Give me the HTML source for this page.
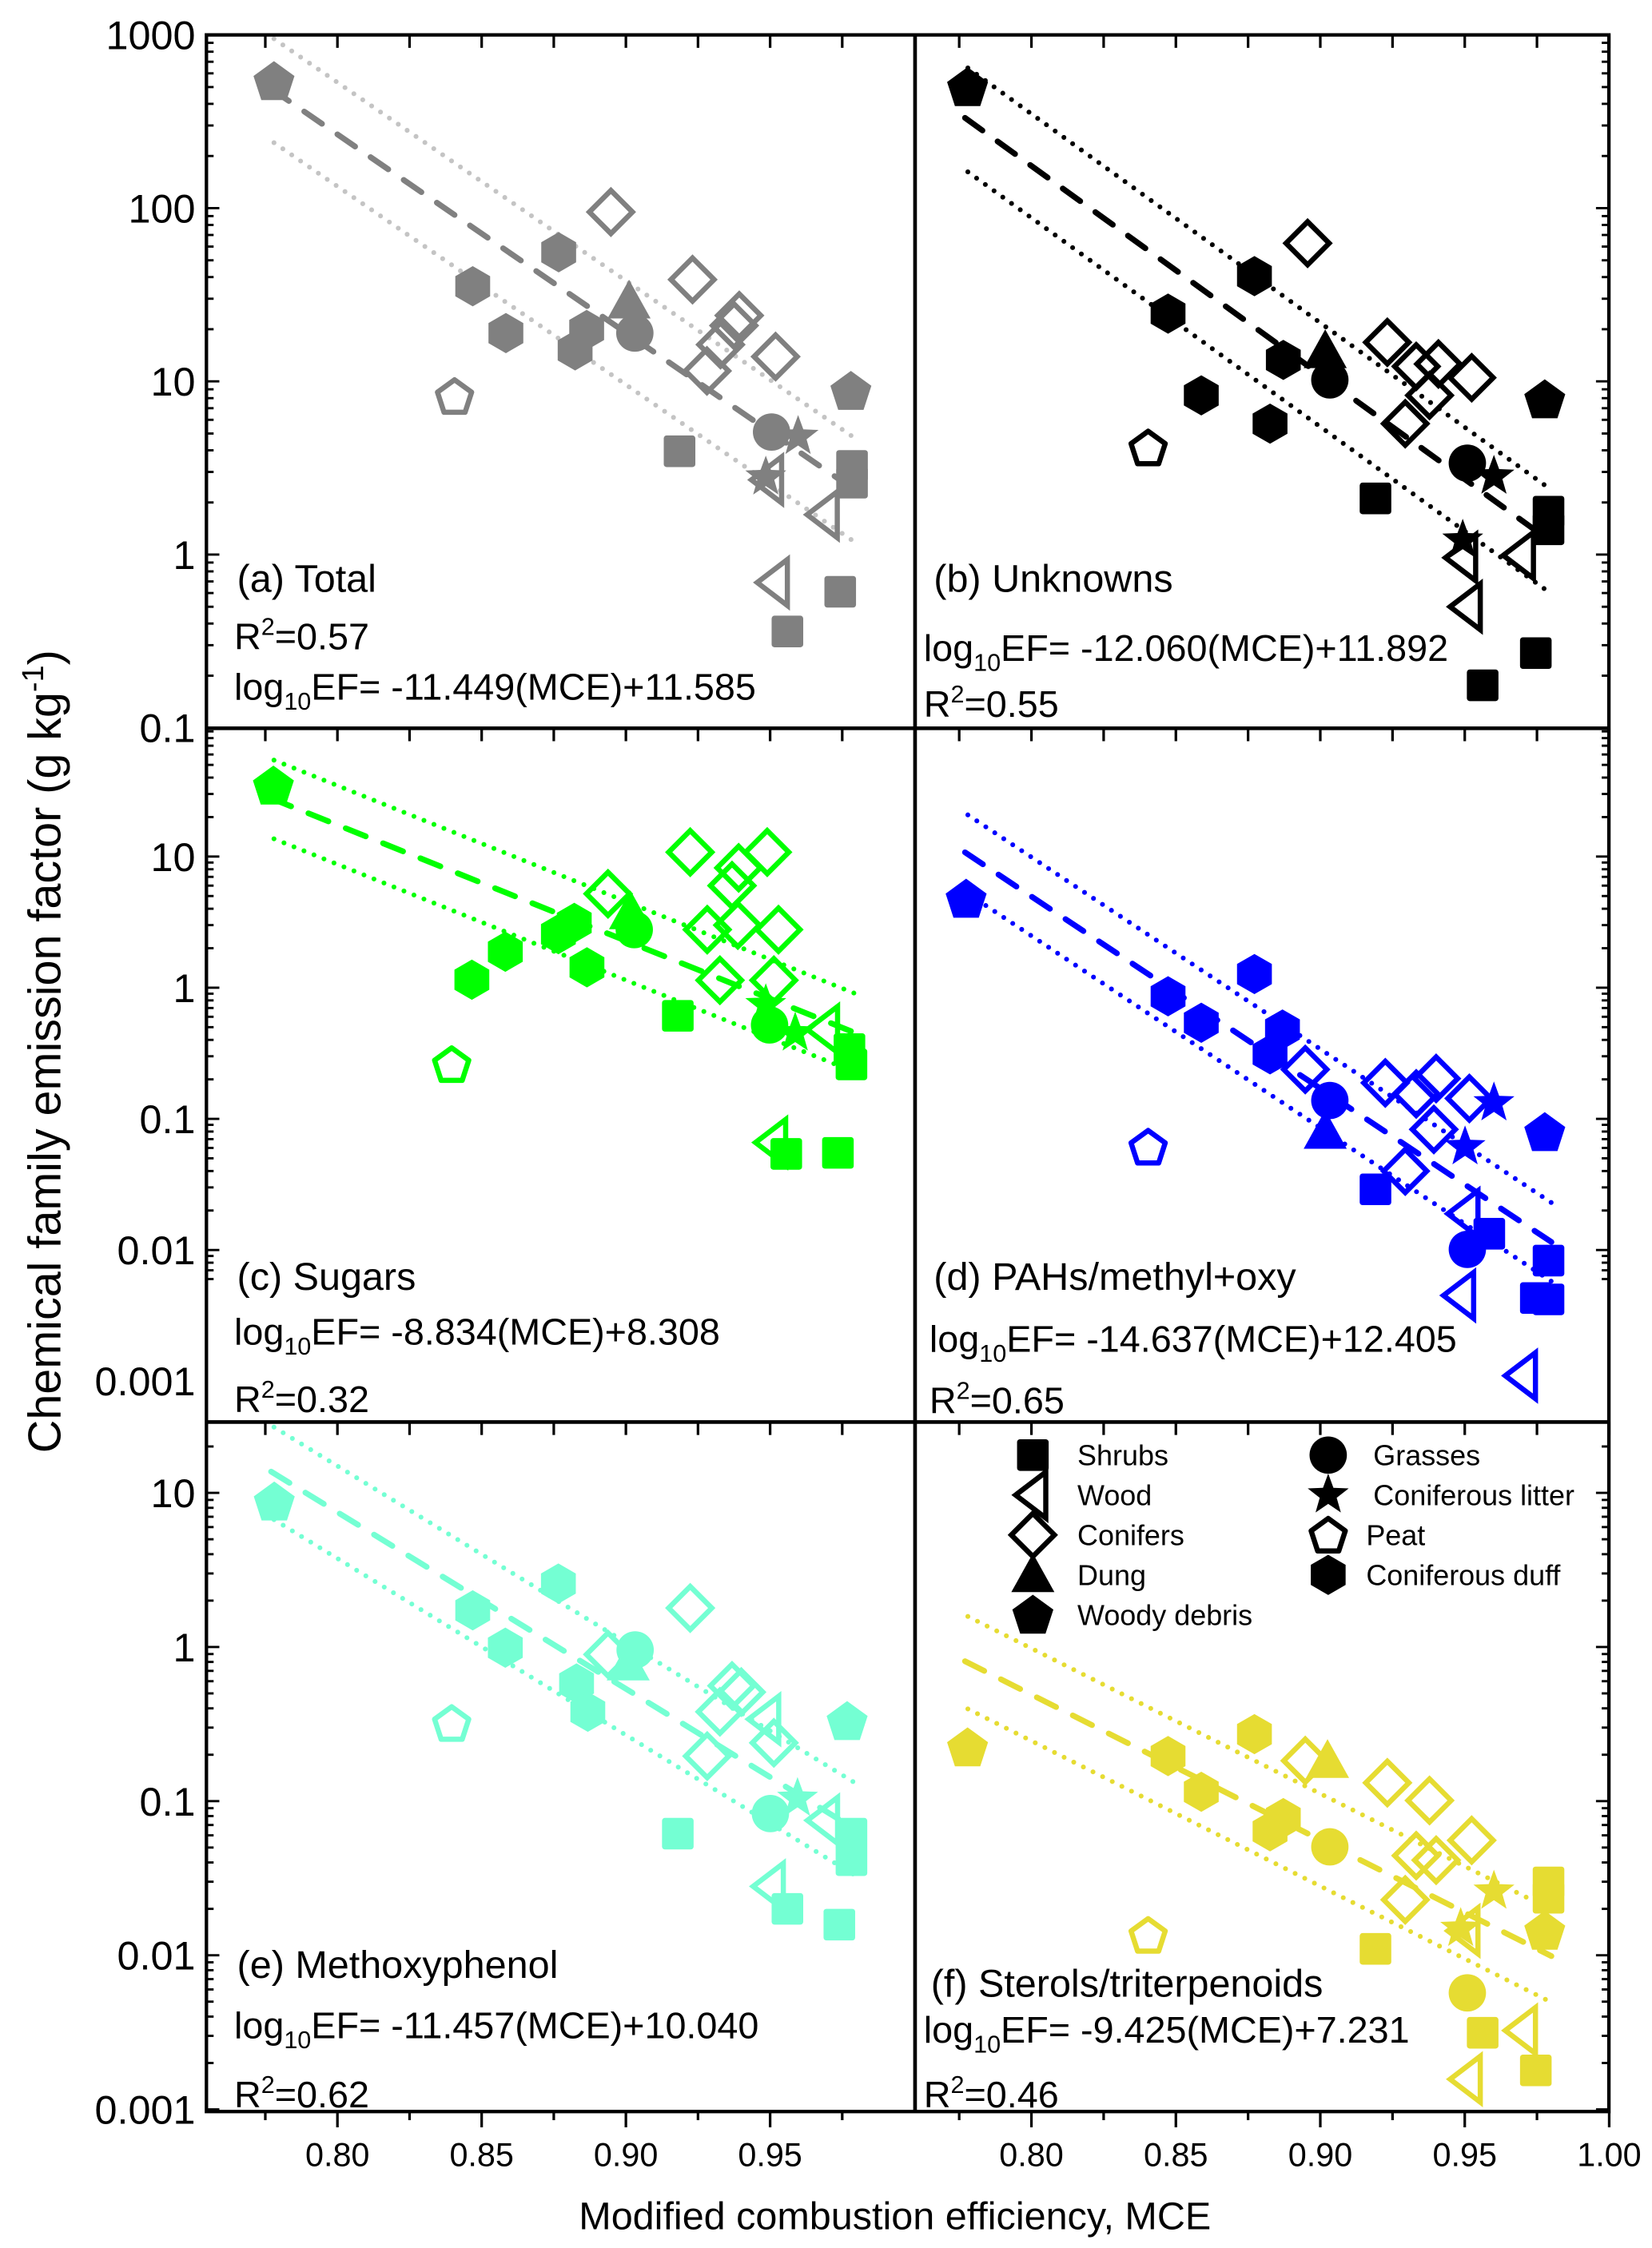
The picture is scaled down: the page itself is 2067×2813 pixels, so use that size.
<!DOCTYPE html>
<html><head><meta charset="utf-8"><style>html,body{margin:0;padding:0;background:#fff}svg{display:block}</style></head>
<body>
<svg id="chart" xmlns="http://www.w3.org/2000/svg" width="2067" height="2813" viewBox="0 0 1150 1565" preserveAspectRatio="none" font-family="'Liberation Sans', Arial, sans-serif">
<rect x="0" y="0" width="1150" height="1565" fill="#fff"/>
<g id="marks"></g>
<g id="frame"></g>
<g id="texts"></g>
</svg>
<script>
// ---- data (MCE, EF in g/kg, fuel type) ----
const panelA_type = ["woody","woody","peat","duff","duff","duff","duff","duff","dung","grass","grass","litter","litter","conifer","conifer","conifer","conifer","conifer","conifer","conifer","shrubs","shrubs","shrubs","shrubs","shrubs","wood","wood","wood"];
const panelA_mce = [0.778,0.978,0.8406,0.8469,0.8584,0.8767,0.8864,0.8824,0.9011,0.9031,0.9505,0.9597,0.9485,0.8948,0.9231,0.9393,0.9375,0.9328,0.9281,0.9519,0.9186,0.9784,0.9784,0.9743,0.956,0.9688,0.9515,0.9495];
const panelA_ef = [540,8.8,8.2,35.4,19,55.6,19.8,15.1,29,19,5.1,4.8,2.8,95,38.7,24,21,16.3,11.5,13.9,3.95,3.25,2.6,0.61,0.36,1.7,0.69,2.7];

const panelB_type = ["woody","woody","peat","duff","duff","duff","duff","duff","dung","grass","grass","litter","litter","conifer","conifer","conifer","conifer","conifer","conifer","conifer","shrubs","shrubs","shrubs","shrubs","shrubs","wood","wood","wood"];
const panelB_mce = [0.7779,0.9777,0.8404,0.8772,0.8473,0.8872,0.8588,0.8826,0.9017,0.9033,0.9509,0.9601,0.9493,0.8956,0.9232,0.9332,0.9409,0.9524,0.9378,0.9294,0.9191,0.979,0.979,0.9746,0.9562,0.9693,0.9493,0.9509];
const panelB_ef = [499,7.87,4.14,40.5,24.6,13.3,8.3,5.7,15,10.2,3.37,2.83,1.21,62.7,16.8,12.2,12.6,10.5,8.3,5.7,2.11,1.77,1.4,0.27,0.176,0.99,0.96,0.5];

const panelC_type = ["woody","peat","duff","duff","duff","duff","duff","dung","grass","grass","litter","litter","conifer","conifer","conifer","conifer","conifer","conifer","conifer","conifer","conifer","conifer","wood","wood","shrubs","shrubs","shrubs","shrubs","shrubs"];
const panelC_mce = [0.7778,0.8396,0.8466,0.8582,0.8766,0.8821,0.8865,0.9016,0.9029,0.9498,0.9587,0.9485,0.9223,0.949,0.9391,0.9368,0.8938,0.9282,0.9388,0.9529,0.9326,0.9513,0.9689,0.9509,0.918,0.9775,0.9782,0.9556,0.9735];
const panelC_ef = [34.7,0.26,1.15,1.88,2.56,3.12,1.43,3.78,2.77,0.52,0.45,0.74,10.8,10.8,8.2,6.0,5.2,2.77,3.0,2.77,1.14,1.14,0.48,0.066,0.61,0.34,0.26,0.054,0.055];

const panelD_type = ["woody","woody","peat","duff","duff","duff","duff","duff","dung","grass","grass","litter","litter","conifer","conifer","conifer","conifer","conifer","conifer","conifer","shrubs","shrubs","shrubs","shrubs","shrubs","wood","wood","wood"];
const panelD_mce = [0.7774,0.9777,0.8404,0.8772,0.8473,0.8588,0.8869,0.8826,0.9017,0.9033,0.9509,0.9601,0.9501,0.8948,0.9225,0.9332,0.9401,0.9516,0.9393,0.9294,0.9191,0.9585,0.979,0.9746,0.979,0.9501,0.9486,0.97];
const panelD_ef = [4.76,0.079,0.061,1.27,0.86,0.54,0.48,0.31,0.08,0.138,0.0101,0.132,0.061,0.238,0.188,0.155,0.203,0.143,0.083,0.04,0.029,0.0133,0.0083,0.0043,0.0042,0.0189,0.0045,0.0011];

const panelE_type = ["woody","woody","peat","duff","duff","duff","duff","duff","dung","grass","grass","litter","conifer","conifer","conifer","conifer","conifer","conifer","conifer","wood","wood","wood","shrubs","shrubs","shrubs","shrubs","shrubs"];
const panelE_mce = [0.7781,0.9767,0.8396,0.8766,0.8469,0.8582,0.8829,0.8868,0.9008,0.9032,0.9501,0.9595,0.9223,0.8938,0.9368,0.94,0.9326,0.9513,0.9282,0.9689,0.9501,0.9485,0.918,0.9782,0.9782,0.956,0.974];
const panelE_ef = [8.77,0.33,0.32,2.58,1.73,0.99,0.58,0.38,0.785,0.957,0.083,0.104,1.79,0.895,0.56,0.51,0.38,0.239,0.196,0.075,0.028,0.34,0.0615,0.0615,0.0414,0.02,0.0158];

const panelF_type = ["woody","woody","peat","duff","duff","duff","duff","duff","dung","grass","grass","litter","litter","conifer","conifer","conifer","conifer","conifer","conifer","conifer","shrubs","shrubs","shrubs","shrubs","shrubs","wood","wood","wood"];
const panelF_mce = [0.7779,0.9777,0.8404,0.8772,0.8473,0.8588,0.8872,0.8826,0.9025,0.9033,0.9509,0.9601,0.9486,0.8948,0.9232,0.9378,0.9524,0.9332,0.9401,0.9294,0.9191,0.979,0.979,0.9562,0.9746,0.97,0.9509,0.9501];
const panelF_ef = [0.223,0.0144,0.0135,0.272,0.196,0.115,0.0776,0.0637,0.183,0.0505,0.0057,0.026,0.0149,0.183,0.1315,0.101,0.0557,0.0443,0.0414,0.0229,0.011,0.0297,0.0236,0.00314,0.00179,0.00325,0.00157,0.0144];

// regression slopes / intercepts (log10 EF = slope*MCE + intercept)
const fitSlopes = [-11.449,-12.060,-8.834,-14.637,-11.457,-9.425];
const fitIntercepts = [11.585,11.892,8.308,12.405,10.040,7.231];
const fitR2 = ["0.57","0.55","0.32","0.65","0.62","0.46"];
const panelTitles = ["(a) Total","(b) Unknowns","(c) Sugars","(d) PAHs/methyl+oxy","(e) Methoxyphenol","(f) Sterols/triterpenoids"];
const yTickLabelsRow1 = ["1000","100","10","1","0.1"];
const yTickLabelsRow23 = ["10","1","0.1","0.01","0.001"];
const xTickLabelsLeft = ["0.80","0.85","0.90","0.95"];
const xTickLabelsRight = ["0.80","0.85","0.90","0.95","1.00"];

// ---- layout ----
const NS="http://www.w3.org/2000/svg";
const marks=document.getElementById('marks'), frame=document.getElementById('frame'), texts=document.getElementById('texts');
function mk(tag,attrs,parent){const e=document.createElementNS(NS,tag);for(const k in attrs)e.setAttribute(k,attrs[k]);(parent||marks).appendChild(e);return e;}
const XL=143.7, XM=637, XR=1120, YT=24.3, Y1=507, Y2=990, YB=1470;
function xLeft(m){return 234.9+(m-0.8)*2008;}
function xRight(m){return 718+(m-0.8)*2011;}
const rows=[
 {top:YT,bot:Y1,y:l=>24.3+(3-l)*120.6,topLog:3,botLog:-1},
 {top:Y1,bot:Y2,y:l=>596.3+(1-l)*91.3,topLog:1.97,botLog:-2.3},
 {top:Y2,bot:YB,y:l=>1039.3+(1-l)*107.3,topLog:1.46,botLog:-3.01}
];
const colors=["#808080","#000000","#00ff00","#0000ff","#74ffd3","#e6dc32"];
const dotColors=["#c4c4c4","#000000","#00ff00","#0000ff","#74ffd3","#e6dc32"];
const panels=[
 {types:panelA_type,mce:panelA_mce,ef:panelA_ef,x:xLeft,row:0,name:'panel-a-total'},
 {types:panelB_type,mce:panelB_mce,ef:panelB_ef,x:xRight,row:0,name:'panel-b-unknowns'},
 {types:panelC_type,mce:panelC_mce,ef:panelC_ef,x:xLeft,row:1,name:'panel-c-sugars'},
 {types:panelD_type,mce:panelD_mce,ef:panelD_ef,x:xRight,row:1,name:'panel-d-pahs'},
 {types:panelE_type,mce:panelE_mce,ef:panelE_ef,x:xLeft,row:2,name:'panel-e-methoxyphenol'},
 {types:panelF_type,mce:panelF_mce,ef:panelF_ef,x:xRight,row:2,name:'panel-f-sterols'}
];

function poly(cx,cy,r,n,rot){let p=[];for(let i=0;i<n;i++){const a=rot+i*2*Math.PI/n;p.push((cx+r*Math.cos(a)).toFixed(2)+','+(cy+r*Math.sin(a)).toFixed(2));}return p.join(' ');}
function star(cx,cy,R,r){let p=[];for(let i=0;i<10;i++){const a=-Math.PI/2+i*Math.PI/5;const rr=i%2?r:R;p.push((cx+rr*Math.cos(a)).toFixed(2)+','+(cy+rr*Math.sin(a)).toFixed(2));}return p.join(' ');}
function marker(type,cx,cy,col,parent){
  let e;
  const sw=3.6;
  if(type==='shrubs') e=mk('rect',{x:cx-11,y:cy-11,width:22,height:22,rx:2,fill:col},parent);
  else if(type==='wood') e=mk('polygon',{points:`${cx-12},${cy} ${cx+9},${cy-16} ${cx+9},${cy+16}`,fill:'none',stroke:col,'stroke-width':sw},parent);
  else if(type==='conifer') e=mk('polygon',{points:`${cx},${cy-15} ${cx+15},${cy} ${cx},${cy+15} ${cx-15},${cy}`,fill:'none',stroke:col,'stroke-width':sw},parent);
  else if(type==='dung') e=mk('polygon',{points:`${cx},${cy-15} ${cx+15},${cy+12} ${cx-15},${cy+12}`,fill:col},parent);
  else if(type==='woody') e=mk('polygon',{points:poly(cx,cy+1,15,5,-Math.PI/2),fill:col},parent);
  else if(type==='grass') e=mk('circle',{cx:cx,cy:cy,r:13,fill:col},parent);
  else if(type==='litter') e=mk('polygon',{points:star(cx,cy,15,6.2),fill:col},parent);
  else if(type==='peat') e=mk('polygon',{points:poly(cx,cy+1,12.5,5,-Math.PI/2),fill:'none',stroke:col,'stroke-width':sw,'stroke-linejoin':'round'},parent);
  else if(type==='duff') e=mk('polygon',{points:poly(cx,cy,14,6,-Math.PI/2),fill:col},parent);
  return e;
}

// ---- draw panels ----
panels.forEach((p,i)=>{
  const row=rows[p.row];
  const g=mk('g',{});
  
  
  const f=m=>fitSlopes[i]*m+fitIntercepts[i];
  [0.3,-0.3].forEach((off,k)=>{
    const l=mk('line',{x1:p.x(0.778),y1:row.y(f(0.778)+off),x2:p.x(0.98),y2:row.y(f(0.98)+off),stroke:dotColors[i],'stroke-width':3.4,'stroke-dasharray':'0 7.5','stroke-linecap':'round'},g);
    
    
  });
  const d=mk('line',{x1:p.x(0.777),y1:row.y(f(0.777)),x2:p.x(0.98),y2:row.y(f(0.98)),stroke:colors[i],'stroke-width':4,'stroke-dasharray':'15 13','stroke-linecap':'round'},g);
  
  
  for(let j=0;j<p.mce.length;j++){
    const e=marker(p.types[j],p.x(p.mce[j]),row.y(Math.log10(p.ef[j])),colors[i],g);
    
    
  }
});

// ---- frame & ticks ----
function line(x1,y1,x2,y2,w,parent){return mk('line',{x1,y1,x2,y2,stroke:'#000','stroke-width':w},parent||frame);}
const fr=mk('rect',{x:XL,y:YT,width:XR-XL,height:YB-YT,fill:'none',stroke:'#000','stroke-width':2.4},frame);


line(XM,YT,XM,YB,2.6);line(XL,Y1,XR,Y1,2.6);line(XL,Y2,XR,Y2,2.6);
rows.forEach((row,ri)=>{
  for(let dec=Math.floor(row.botLog);dec<=Math.ceil(row.topLog);dec++){
    for(let k=1;k<=9;k++){
      const l=dec+Math.log10(k);
      if(l>row.topLog+0.001||l<row.botLog-0.001)continue;
      const y=row.y(l);
      if(y<row.top-0.5||y>row.bot+0.5)continue;
      const len=k===1?9:5;
      line(XL,y,XL+len,y,1.6);
      line(XR,y,XR-len,y,1.6);
    }
  }
  for(let m=0.775;m<1.0001;m+=0.025){
    if(m>0.755){const x=xLeft(m); if(x<XM-1) line(x,row.top,x,row.top+9,1.8);}
    const x2=xRight(m); if(x2>XM+1&&x2<XR+0.5) line(x2,row.top,x2,row.top+9,1.8);
  }
});
for(let m=0.775;m<1.0001;m+=0.025){
  const major=Math.abs(Math.round(m*20)-m*20)<0.01;
  const x=xLeft(m); if(x<XM-1) line(x,YB,x,YB+(major?11:6),1.8);
  const x2=xRight(m); if(x2>XM+1) line(x2,YB,x2,YB+(major?11:6),1.8);
}

// ---- text ----
function txt(s,x,y,size,anchor,name){const t=mk('text',{x,y,'font-size':size,'text-anchor':anchor||'start',fill:'#000'},texts);t.textContent=s;return t;}
yTickLabelsRow1.forEach((s,k)=>txt(s,136,rows[0].y(3-k)+10,28,'end','y-tick-label'));
yTickLabelsRow23.forEach((s,k)=>txt(s,136,rows[1].y(1-k)+10,28,'end','y-tick-label'));
yTickLabelsRow23.forEach((s,k)=>txt(s,136,rows[2].y(1-k)+10,28,'end','y-tick-label'));
xTickLabelsLeft.forEach((s,k)=>{const m=0.8+k*0.05;txt(s,xLeft(m),1508,23,'middle','x-tick-label');});
xTickLabelsRight.forEach((s,k)=>{const m=0.8+k*0.05;txt(s,xRight(m),1508,23,'middle','x-tick-label');});
txt('Modified combustion efficiency, MCE',623,1552,27,'middle','x-axis-title');
const yt=mk('text',{x:0,y:0,'font-size':32,'text-anchor':'middle',transform:'translate(42,732) rotate(-90)'},texts);


yt.innerHTML='Chemical family emission factor (g kg<tspan dy="-12" font-size="21">-1</tspan><tspan dy="12">)</tspan>';

function eq(i,x,y){
  const t=mk('text',{x,y,'font-size':26},texts);
  
  
  const sl=fitSlopes[i].toFixed(3), ic=fitIntercepts[i].toFixed(3);
  t.innerHTML=`log<tspan dy="7" font-size="17">10</tspan><tspan dy="-7">EF= ${sl}(MCE)+${ic}</tspan>`;
}
function r2(i,x,y){
  const t=mk('text',{x,y,'font-size':26},texts);
  
  
  t.innerHTML=`R<tspan dy="-10" font-size="17">2</tspan><tspan dy="10">=${fitR2[i]}</tspan>`;
}
txt(panelTitles[0],165,412,27,'start','panel-title');r2(0,163,452);eq(0,163,487);
txt(panelTitles[1],650,412,27,'start','panel-title');eq(1,643,460);r2(1,643,499);
txt(panelTitles[2],165,898,27,'start','panel-title');eq(2,163,936);r2(2,163,983);
txt(panelTitles[3],650,898,27,'start','panel-title');eq(3,647,941);r2(3,647,984);
txt(panelTitles[4],165,1377,27,'start','panel-title');eq(4,163,1419);r2(4,163,1467);
txt(panelTitles[5],648,1390,27,'start','panel-title');eq(5,643,1422);r2(5,643,1467);

// ---- legend ----
const legendNames=["Shrubs","Wood","Conifers","Dung","Woody debris","Grasses","Coniferous litter","Peat","Coniferous duff"];
const legendTypes=["shrubs","wood","conifer","dung","woody","grass","litter","peat","duff"];
const lg=mk('g',{},texts);


legendNames.forEach((n,k)=>{
  const col=k<5?0:1, r=k<5?k:k-5;
  const y=1013+r*27.8;
  const sx=col===0?719:924.6, tx=col===0?750:(k===5||k===6?956:951);
  const m=marker(legendTypes[k],sx,y,'#000',lg);
  
  
  const t=mk('text',{x:tx,y:y+7,'font-size':20},lg);
  t.textContent=n;
  
  
});
</script>
</body></html>
